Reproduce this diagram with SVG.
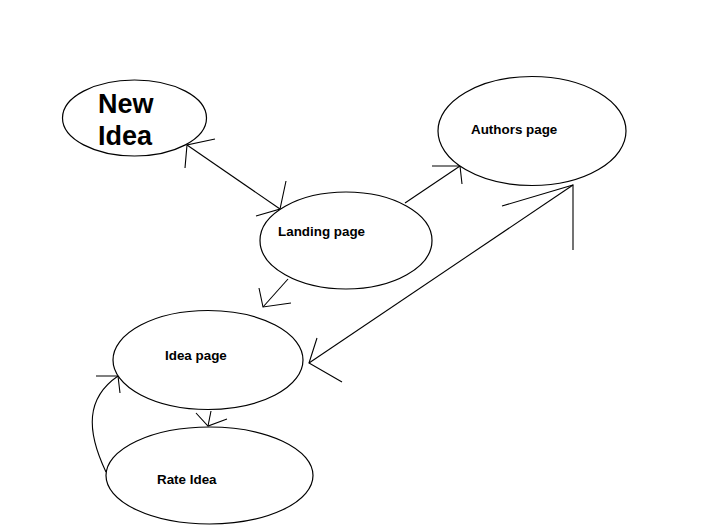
<svg xmlns="http://www.w3.org/2000/svg" width="709" height="528" viewBox="0 0 709 528">
<style>
.n{fill:#fff;stroke:#000;stroke-width:1.2}
.c{fill:none;stroke:#000;stroke-width:1.1}
.t{font-family:"Liberation Sans",Arial,sans-serif;font-weight:bold;font-size:13.4px;fill:#000}
.big{font-size:27px}
</style>
<rect width="709" height="528" fill="#fff"/>
<g id="connectors">
<line class="c" x1="187" y1="145" x2="280" y2="209"/>
<polyline class="c" points="215,139 187,145 185,168"/>
<polyline class="c" points="286,181 280,209 256,216"/>
<line class="c" x1="405" y1="203" x2="460" y2="166"/>
<polyline class="c" points="432,166 460,166 462,184"/>
<line class="c" x1="573" y1="185" x2="309" y2="363"/>
<polyline class="c" points="502,206 573,185 573,250"/>
<polyline class="c" points="317,338 309,363 342,382"/>
<line class="c" x1="288" y1="279" x2="263" y2="307"/>
<polyline class="c" points="259,288 263,307 291,303"/>
<line class="c" x1="211" y1="411" x2="208" y2="426"/>
<polyline class="c" points="196,413 208,426 227,419"/>
<path class="c" d="M106,472 C86,430 86,398 118,376"/>
<polyline class="c" points="96,376 118,376 120,393"/>
</g>
<g id="new-idea">
<ellipse class="n" cx="134.5" cy="118" rx="72" ry="38"/>
<text class="t big" x="98" y="113">New</text>
<text class="t big" x="98" y="145">Idea</text>
</g>
<g id="landing-page">
<ellipse class="n" cx="346" cy="240.5" rx="86" ry="48.5"/>
<text class="t" x="278" y="236">Landing page</text>
</g>
<g id="authors-page">
<ellipse class="n" cx="532" cy="131" rx="94" ry="54.5"/>
<text class="t" x="471" y="134">Authors page</text>
</g>
<g id="idea-page">
<ellipse class="n" cx="208" cy="360" rx="95" ry="49.5"/>
<text class="t" x="165" y="360">Idea page</text>
</g>
<g id="rate-idea">
<ellipse class="n" cx="209.5" cy="475.5" rx="103.5" ry="48.5"/>
<text class="t" x="157" y="484">Rate Idea</text>
</g>
</svg>
